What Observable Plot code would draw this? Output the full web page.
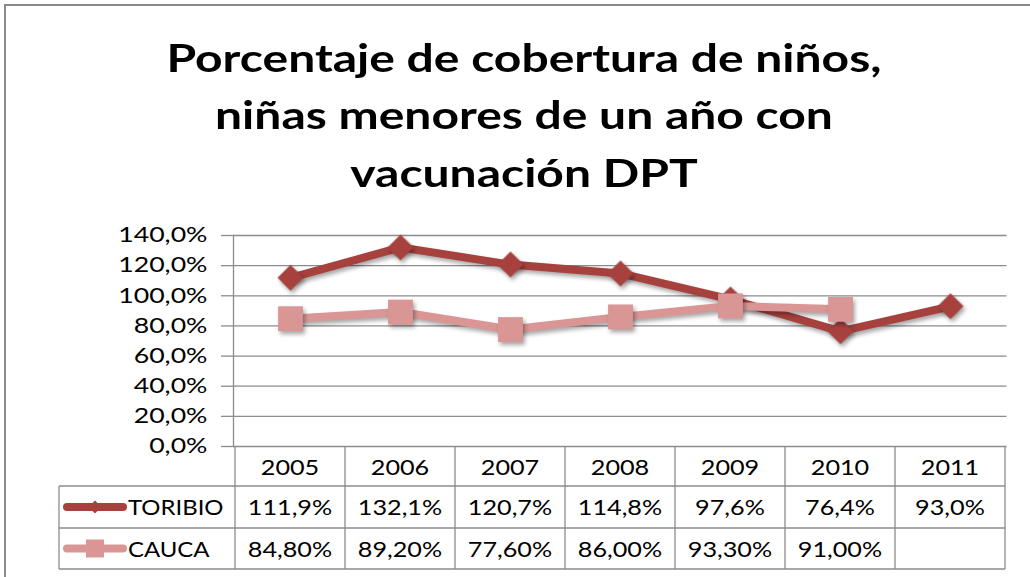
<!DOCTYPE html>
<html><head><meta charset="utf-8">
<script src="https://cdn.jsdelivr.net/npm/d3@7"></script>
<script src="https://cdn.jsdelivr.net/npm/@observablehq/plot@0.6"></script>
<style>
html,body{margin:0;padding:0;background:#fff;overflow:hidden;}
#wrap{position:relative;width:1030px;height:577px;overflow:hidden;font-family:Lato,sans-serif;}
#frame{position:absolute;left:4px;top:4px;width:1100px;height:700px;border:2px solid #8a8a8a;box-sizing:border-box;}
#title{position:absolute;left:0;width:1048px;top:28.7px;text-align:center;font-weight:700;font-size:37.5px;line-height:57.5px;color:#000;transform:scaleX(1.28);transform-origin:524px 0;}
#chart{position:absolute;left:0;top:0;}
</style></head><body>
<div id="wrap"><div id="frame"></div><div id="chart"></div>
<div id="title">Porcentaje de cobertura de niños,<br>niñas menores de un año con<br>vacunación DPT</div></div>
<script>
const years = ["2005","2006","2007","2008","2009","2010","2011"];
const toribio = [111.9,132.1,120.7,114.8,97.6,76.4,93.0];
const cauca = [84.8,89.2,77.6,86.0,93.3,91.0,null];
const seriesNames = ["TORIBIO","CAUCA"];
const yTicks = [0,20,40,60,80,100,120,140];

const dark = "#A7413E", light = "#D99694", grid = "#8c8c8c";
const fmt = (v, d) => v == null ? "" : v.toFixed(d).replace(".", ",") + "%";

const rows = [];
years.forEach((yr, i) => {
  if (toribio[i] != null) rows.push({year: yr, value: toribio[i], series: "TORIBIO"});
  if (cauca[i] != null) rows.push({year: yr, value: cauca[i], series: "CAUCA"});
});
const tData = rows.filter(d => d.series === "TORIBIO");
const cData = rows.filter(d => d.series === "CAUCA");

const chart = Plot.plot({
  width: 1030, height: 577,
  marginTop: 235, marginBottom: 131, marginLeft: 233, marginRight: 23.5,
  style: {fontFamily: "Lato, sans-serif", fontSize: "21px", color: "#000", background: "transparent", overflow: "visible"},
  x: {type: "band", domain: years, padding: 0, axis: null},
  y: {domain: [0, 140], axis: null},
  marks: [
    Plot.ruleY(yTicks, {stroke: grid, strokeWidth: 1.3}),
    Plot.axisY({ticks: yTicks, label: null, tickSize: 12, tickPadding: 14, stroke: grid, strokeWidth: 1.3, fill: "#000", fontSize: 21,
      tickFormat: d => fmt(d, 1)}),
    Plot.frame({anchor: "left", stroke: grid, strokeWidth: 1.3}),
    Plot.line(tData, {x: "year", y: "value", stroke: dark, strokeWidth: 8, strokeLinejoin: "round", strokeLinecap: "round"}),
    Plot.dot(tData, {x: "year", y: "value", symbol: "diamond2", r: 11.7, fill: dark, stroke: null}),
    Plot.line(cData, {x: "year", y: "value", stroke: light, strokeWidth: 8, strokeLinejoin: "round", strokeLinecap: "round"}),
    Plot.dot(cData, {x: "year", y: "value", symbol: "square", r: 14, fill: light, stroke: null})
  ]
});
document.getElementById("chart").appendChild(chart);

const svg = d3.select(chart);
svg.selectAll('g[aria-label="line"], g[aria-label="dot"]').style("filter", "drop-shadow(2px 3px 2px rgba(0,0,0,0.35))");

// widen glyphs horizontally around their anchor point (reference text is horizontally stretched)
function stretch(el, s) {
  const x = +el.getAttribute("x") || 0;
  const prev = el.getAttribute("transform") || "";
  el.setAttribute("transform", `${prev} translate(${x},0) scale(${s},1) translate(${-x},0)`);
}
svg.selectAll('g[aria-label="y-axis tick label"] text').each(function() { stretch(this, 1.27); });

// data table under the chart, aligned on the plot's x scale
const xs = chart.scale("x");
const ys = chart.scale("y");
const bw = xs.bandwidth;
const right0 = xs.apply(years[years.length - 1]) + bw;
const yTop = ys.apply(0);
const rowB = [yTop, yTop + 40, yTop + 82, yTop + 123];
const legendLeft = 59;
const g = svg.append("g").attr("font-family", "Lato, sans-serif").attr("font-size", 21).attr("fill", "#000");
const hline = (x1, x2, y) => g.append("line").attr("x1", x1).attr("x2", x2).attr("y1", y).attr("y2", y).attr("stroke", grid).attr("stroke-width", 1.3);
const vline = (x, y1, y2) => g.append("line").attr("x1", x).attr("x2", x).attr("y1", y1).attr("y2", y2).attr("stroke", grid).attr("stroke-width", 1.3);
[rowB[1], rowB[2], rowB[3]].forEach(y => hline(legendLeft, right0, y));
years.forEach(yr => vline(xs.apply(yr), rowB[0], rowB[3]));
vline(right0, rowB[0], rowB[3]);
vline(legendLeft, rowB[1], rowB[3]);
const cellText = (x, y, str, anchor, s) => {
  const t = g.append("text").attr("x", x).attr("y", y).attr("text-anchor", anchor).text(str);
  stretch(t.node(), s);
};
years.forEach((yr, i) => {
  const cx = xs.apply(yr) + bw / 2;
  cellText(cx, rowB[0] + 29, yr, "middle", 1.2);
  cellText(cx, rowB[1] + 29, fmt(toribio[i], 1), "middle", 1.2);
  cellText(cx, rowB[2] + 29, fmt(cauca[i], 2), "middle", 1.2);
});
// legend keys
const keys = [{name: seriesNames[0], color: dark, sym: d3.symbolDiamond2, size: 110, top: rowB[1], bot: rowB[2]},
              {name: seriesNames[1], color: light, sym: d3.symbolSquare, size: 324, top: rowB[2], bot: rowB[3]}];
keys.forEach(k => {
  const cy = (k.top + k.bot) / 2;
  g.append("line").attr("x1", 67).attr("x2", 123).attr("y1", cy).attr("y2", cy).attr("stroke", k.color).attr("stroke-width", 8).attr("stroke-linecap", "round");
  g.append("path").attr("d", d3.symbol(k.sym, k.size)()).attr("transform", `translate(95,${cy})`).attr("fill", k.color);
  cellText(128, k.top + 29, k.name, "start", 1.14);
});
</script>
</body></html>
